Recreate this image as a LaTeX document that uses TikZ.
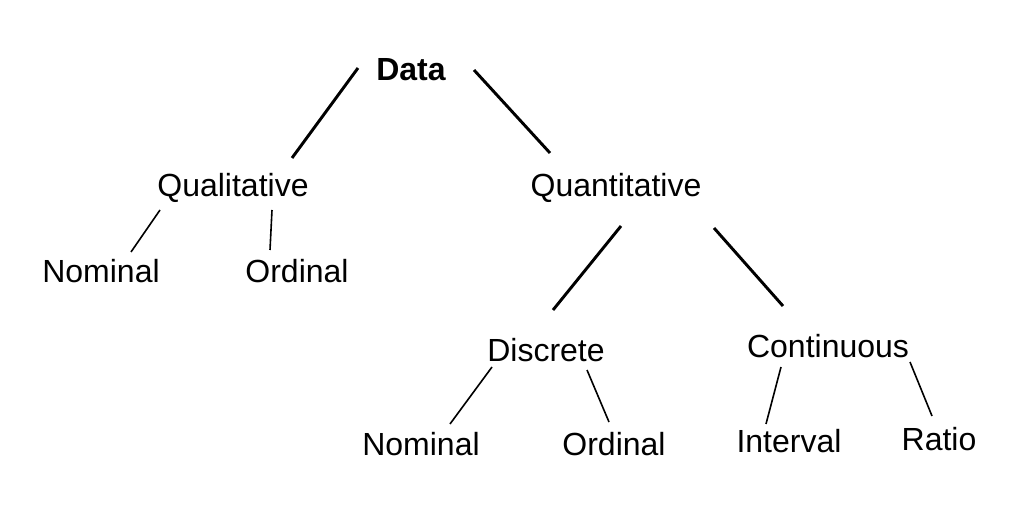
\documentclass[tikz,border=0pt]{standalone}
\usepackage{fontspec}
\setmainfont{Liberation Sans}
\begin{document}
\begin{tikzpicture}[x=0.75pt,y=-0.75pt,
  lbl/.style={font=\fontsize{24}{28}\selectfont,inner sep=0pt},
  thick line/.style={line width=2.2pt},
  thin line/.style={line width=1.2pt}]
\useasboundingbox (0,0) rectangle (1024,509);
\node[lbl,font=\fontsize{24}{28}\selectfont\bfseries] (data) at (411,70) {Data};
\node[lbl] (qual) at (233,188) {Qualitative};
\node[lbl] (quant) at (616,188) {Quantitative};
\node[lbl] (nom1) at (101,271) {Nominal};
\node[lbl] (ord1) at (297,271) {Ordinal};
\node[lbl] (disc) at (546,350) {Discrete};
\node[lbl] (cont) at (828,346) {Continuous};
\node[lbl] (nom2) at (421,444) {Nominal};
\node[lbl] (ord2) at (614,444) {Ordinal};
\node[lbl] (int) at (789,441) {Interval};
\node[lbl] (ratio) at (939,439) {Ratio};
\draw[thick line] (358,68) -- (292,158);
\draw[thick line] (474,70) -- (550,153);
\draw[thin line] (160,210) -- (131,252);
\draw[thin line] (272,210) -- (270,250);
\draw[thick line] (621,226) -- (553,310);
\draw[thick line] (714,228) -- (783,306);
\draw[thin line] (492,367) -- (450,424);
\draw[thin line] (587,370) -- (609,422);
\draw[thin line] (781,367) -- (766,424);
\draw[thin line] (910,362) -- (932,416);
\end{tikzpicture}
\end{document}
